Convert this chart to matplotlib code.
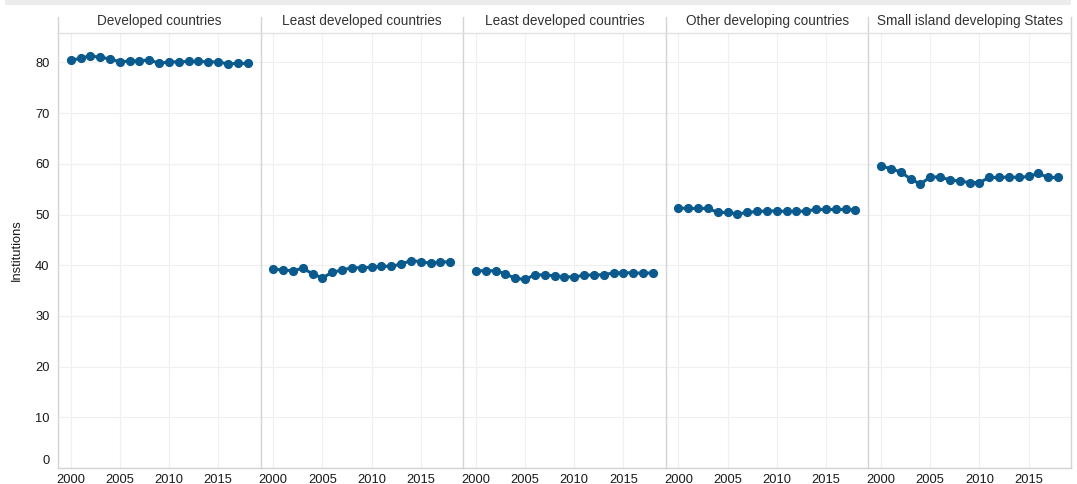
import numpy as np
import matplotlib
matplotlib.use("Agg")
import matplotlib.pyplot as plt
from matplotlib.lines import Line2D
from matplotlib.patches import Rectangle
from matplotlib.transforms import ScaledTranslation

plt.rcParams['font.family'] = ['Liberation Sans', 'DejaVu Sans']

years = list(range(2000, 2019))
titles = ["Developed countries", "Least developed countries", "Least developed countries",
          "Other developing countries", "Small island developing States"]

developed = [80.4, 80.8, 81.3, 81.0, 80.7, 80.1, 80.3, 80.3, 80.5, 79.8,
             80.1, 80.1, 80.2, 80.2, 80.1, 80.1, 79.7, 79.8, 79.8]
least_dev_a = [39.25, 39.05, 38.9, 39.4, 38.3, 37.5, 38.6, 39.05, 39.5, 39.5,
               39.6, 39.8, 39.8, 40.2, 40.9, 40.7, 40.4, 40.6, 40.7]
least_dev_b = [38.9, 38.9, 38.9, 38.3, 37.4, 37.2, 38.1, 38.1, 37.9, 37.7,
               37.7, 38.0, 38.1, 38.1, 38.5, 38.5, 38.5, 38.4, 38.5]
other_dev = [51.3, 51.2, 51.2, 51.2, 50.4, 50.4, 50.1, 50.4, 50.6, 50.7,
             50.7, 50.6, 50.6, 50.7, 51.0, 51.0, 51.0, 51.0, 50.9]
sids = [59.6, 59.0, 58.4, 57.0, 56.0, 57.4, 57.4, 56.8, 56.6, 56.3,
        56.3, 57.3, 57.3, 57.4, 57.3, 57.5, 58.1, 57.3, 57.3]
series = [developed, least_dev_a, least_dev_b, other_dev, sids]

x_ticks = [2000, 2005, 2010, 2015]
y_ticks = [0, 10, 20, 30, 40, 50, 60, 70, 80]

W, H = 1077, 484
fig = plt.figure(figsize=(W / 100, H / 100), dpi=100)

line_col = '#0b5a8e'
sep_col = '#d4d4d4'
grid_col = '#f0f0f0'

x0, x1 = 58, 1071
y_top, y_bot, y_head = 33, 468, 17
pw = (x1 - x0) / 5

for i, (title, vals) in enumerate(zip(titles, series)):
    ax = fig.add_axes([(x0 + i * pw) / W, (H - y_bot) / H, pw / W, (y_bot - y_top) / H])
    ax.plot(years, vals, color=line_col, lw=2.2, marker='o', ms=5.6, zorder=3)
    ax.set_xlim(1998.71, 2019.32)
    ax.set_ylim(0, 85.8)
    ax.set_xticks(x_ticks)
    ax.set_yticks(y_ticks)
    ax.grid(True, color=grid_col, lw=0.9)
    ax.set_axisbelow(True)
    for s in ax.spines.values():
        s.set_visible(False)
    for side in ('left', 'bottom'):
        ax.spines[side].set_visible(True)
        ax.spines[side].set_color(sep_col)
        ax.spines[side].set_linewidth(1.0)
    ax.tick_params(length=0, labelsize=9.3, colors='#1a1a1a')
    ax.tick_params(axis='y', pad=6)
    ax.tick_params(axis='x', pad=4)
    if i > 0:
        ax.tick_params(axis='y', labelleft=False)
    else:
        for lab in ax.get_yticklabels():
            if lab.get_text() == '0':
                lab.set_transform(lab.get_transform() + ScaledTranslation(0, 0.08, fig.dpi_scale_trans))
        ax.set_ylabel('Institutions', fontsize=9.3, color='#1a1a1a', labelpad=9)
    fig.text((x0 + (i + 0.5) * pw) / W, 1 - 21 / H, title, ha='center', va='center',
             fontsize=9.8, color='#333333')

# header separators and frame lines
for i in range(6):
    xx = (x0 + i * pw) / W
    fig.add_artist(Line2D([xx, xx], [1 - y_head / H, 1 - y_top / H], color=sep_col, lw=1.0))
fig.add_artist(Line2D([x1 / W, x1 / W], [1 - y_top / H, 1 - y_bot / H], color=sep_col, lw=1.0))
fig.add_artist(Line2D([x0 / W, x1 / W], [1 - y_top / H, 1 - y_top / H], color='#e2e2e2', lw=1.0))
fig.add_artist(Rectangle((5 / W, 1 - 5 / H), (x1 - 5) / W, 5 / H, color='#ececec', lw=0))

fig.savefig('out.png', dpi=100)
